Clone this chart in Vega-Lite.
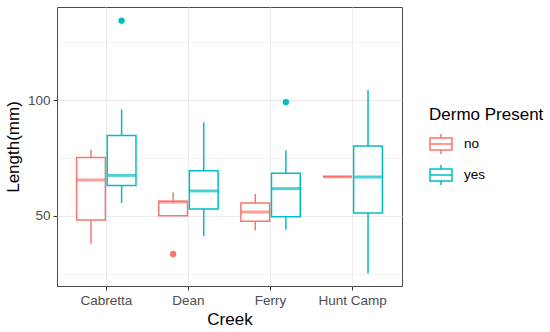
{
  "$schema": "https://vega.github.io/schema/vega-lite/v6.json",
  "autosize": {"type": "none"},
  "width": 345,
  "height": 279,
  "padding": {"left": 57, "top": 7, "right": 148, "bottom": 46},
  "background": "white",
  "config": {
    "font": "Liberation Sans",
    "view": {"stroke": "#4a4a4a", "strokeWidth": 1},
    "axis": {
      "domain": false,
      "tickColor": "#333333",
      "tickSize": 4,
      "labelColor": "#4D4D4D",
      "labelFontSize": 13.5,
      "labelFont": "Liberation Sans",
      "titleFont": "Liberation Sans",
      "titleFontSize": 17,
      "titleFontWeight": "normal",
      "titleColor": "#000000",
      "gridColor": "#EBEBEB"
    }
  },
  "datasets": {
    "boxes": [
      {"creek": "Cabretta", "dermo": "no", "lower": 38.0, "q1": 48.3, "median": 65.5, "q3": 75.2, "upper": 78.5},
      {"creek": "Cabretta", "dermo": "yes", "lower": 55.6, "q1": 63.1, "median": 67.5, "q3": 84.7, "upper": 96.0},
      {"creek": "Dean", "dermo": "no", "lower": 50.1, "q1": 50.1, "median": 56.0, "q3": 56.3, "upper": 60.1},
      {"creek": "Dean", "dermo": "yes", "lower": 41.3, "q1": 53.0, "median": 60.8, "q3": 69.5, "upper": 90.4},
      {"creek": "Ferry", "dermo": "no", "lower": 43.7, "q1": 47.7, "median": 51.7, "q3": 55.6, "upper": 59.5},
      {"creek": "Ferry", "dermo": "yes", "lower": 44.1, "q1": 49.7, "median": 61.8, "q3": 68.4, "upper": 78.3},
      {"creek": "Hunt Camp", "dermo": "no", "lower": 66.9, "q1": 66.9, "median": 66.9, "q3": 66.9, "upper": 66.9},
      {"creek": "Hunt Camp", "dermo": "yes", "lower": 25.2, "q1": 51.3, "median": 66.8, "q3": 80.2, "upper": 104.3}
    ],
    "outliers": [
      {"creek": "Cabretta", "dermo": "yes", "length": 134.2},
      {"creek": "Dean", "dermo": "no", "length": 33.6},
      {"creek": "Ferry", "dermo": "yes", "length": 99.1}
    ]
  },
  "encoding": {
    "x": {
      "field": "creek",
      "type": "nominal",
      "title": "Creek",
      "scale": {"paddingInner": 0, "paddingOuter": 0.1},
      "axis": {"labelAngle": 0, "grid": true, "gridWidth": 1, "bandPosition": 0.5, "labelPadding": 3, "titlePadding": 5}
    },
    "xOffset": {
      "field": "dermo",
      "type": "nominal",
      "scale": {"paddingInner": 0.06, "paddingOuter": 0.372}
    },
    "color": {
      "field": "dermo",
      "type": "nominal",
      "title": "Dermo Present",
      "scale": {"domain": ["no", "yes"], "range": ["#F8766D", "#00BFC4"]},
      "legend": {
        "orient": "none",
        "legendX": 372,
        "legendY": 100,
        "titleFontSize": 17,
        "titleFontWeight": "normal",
        "titleColor": "#000000",
        "titleFont": "Liberation Sans",
        "labelFont": "Liberation Sans",
        "labelFontSize": 13.5,
        "labelColor": "#000000",
        "symbolType": "M-1,-0.55H1V0.55H-1Z M-1,0H1 M0,-0.55V-0.9 M0,0.55V0.9",
        "symbolSize": 484,
        "symbolStrokeWidth": 1.5,
        "symbolFillColor": "transparent",
        "labelOffset": 11,
        "rowPadding": 5,
        "titlePadding": 8,
        "encode": {"symbols": {"update": {"fillOpacity": {"value": 0}, "strokeOpacity": {"value": 1}, "stroke": {"scale": "color", "field": "value"}}}}
      }
    }
  },
  "layer": [
    {
      "data": {"name": "boxes"},
      "mark": {"type": "rule", "strokeWidth": 1.5},
      "encoding": {
        "y": {
          "field": "lower",
          "type": "quantitative",
          "title": "Length(mm)",
          "scale": {"domain": [19.8, 140.1], "nice": false, "zero": false},
          "axis": {
            "values": [25, 50, 75, 100, 125],
            "labelExpr": "datum.value % 50 === 0 ? datum.label : ''",
            "tickOpacity": {"condition": {"test": "datum.value % 50 === 0", "value": 1}, "value": 0},
            "gridWidth": {"condition": {"test": "datum.value % 50 === 0", "value": 1}, "value": 0.6},
            "labelPadding": 3,
            "titlePadding": 5
          }
        },
        "y2": {"field": "upper"}
      }
    },
    {
      "data": {"name": "boxes"},
      "mark": {"type": "bar", "filled": false, "fill": "white", "strokeWidth": 1.5},
      "encoding": {
        "y": {"field": "q1", "type": "quantitative"},
        "y2": {"field": "q3"}
      }
    },
    {
      "data": {"name": "boxes"},
      "mark": {"type": "tick", "size": 29, "thickness": 3},
      "encoding": {
        "y": {"field": "median", "type": "quantitative"}
      }
    },
    {
      "data": {"name": "outliers"},
      "mark": {"type": "circle", "size": 40, "opacity": 1},
      "encoding": {
        "y": {"field": "length", "type": "quantitative"}
      }
    }
  ]
}
